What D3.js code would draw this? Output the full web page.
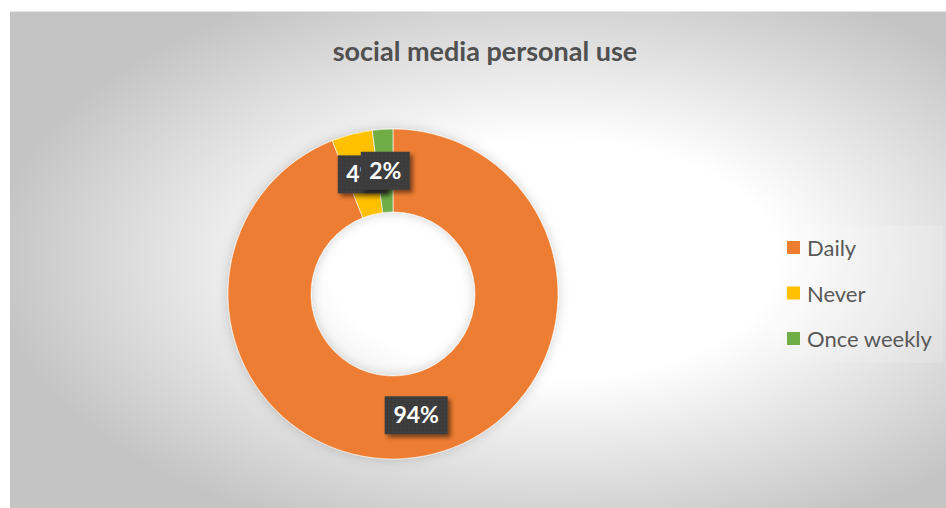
<!DOCTYPE html>
<html><head><meta charset="utf-8">
<script src="https://cdn.jsdelivr.net/npm/d3@7"></script>
<style>body{margin:0;background:#fff;}svg{display:block;}</style>
</head><body>
<script>
const categories = ["Daily", "Never", "Once weekly"];
const values = [94, 4, 2];
const colors = ["#ED7D31", "#FFC000", "#70AD47"];
const title = "social media personal use";

const W = 946, H = 508;
const FONT = "Lato, 'Open Sans', sans-serif";
const svg = d3.select("body").append("svg").attr("width", W).attr("height", H);
const defs = svg.append("defs");
const grad = defs.append("radialGradient").attr("id", "bg")
  .attr("cx", "0.58").attr("cy", "0.5").attr("r", "0.6");
grad.append("stop").attr("offset", "0").attr("stop-color", "#ffffff");
grad.append("stop").attr("offset", "0.4").attr("stop-color", "#ffffff");
grad.append("stop").attr("offset", "1").attr("stop-color", "#c4c4c4");
const sh = defs.append("filter").attr("id", "sh").attr("x", "-30%").attr("y", "-30%").attr("width", "170%").attr("height", "170%");
sh.append("feDropShadow").attr("dx", 3).attr("dy", 3).attr("stdDeviation", 2).attr("flood-color", "#000").attr("flood-opacity", 0.5);
const glow = defs.append("filter").attr("id", "glow").attr("x", "-20%").attr("y", "-20%").attr("width", "140%").attr("height", "140%");
glow.append("feDropShadow").attr("dx", 0).attr("dy", 0).attr("stdDeviation", 6).attr("flood-color", "#000").attr("flood-opacity", 0.18);
const pat = defs.append("pattern").attr("id", "dots").attr("width", 4).attr("height", 4).attr("patternUnits", "userSpaceOnUse");
pat.append("rect").attr("width", 4).attr("height", 4).attr("fill", "#3b3b3b");
pat.append("circle").attr("cx", 1).attr("cy", 1).attr("r", 0.7).attr("fill", "#4a4a4a");

const chart = {x: 10, y: 11, w: W - 10, h: H - 11};
svg.append("rect").attr("x", chart.x).attr("y", chart.y).attr("width", chart.w).attr("height", chart.h)
  .attr("fill", "url(#bg)");
svg.append("line").attr("x1", chart.x).attr("x2", W).attr("y1", chart.y + 0.5).attr("y2", chart.y + 0.5)
  .attr("stroke", "#e6e6e6").attr("stroke-width", 1);

svg.append("text").attr("x", 485).attr("y", 61).attr("text-anchor", "middle")
  .attr("font-family", FONT).attr("font-weight", 700).attr("font-size", 27)
  .attr("fill", "#505050").text(title);

const cx = 393, cy = 294, R = 165, r = 82;
const data = categories.map((c, i) => ({cat: c, value: values[i], color: colors[i]}));
const pie = d3.pie().value(d => d.value).sort(null);
const arcs = pie(data);
const arc = d3.arc().innerRadius(r).outerRadius(R);
const g = svg.append("g").attr("transform", `translate(${cx},${cy})`);
g.append("g").attr("filter", "url(#glow)").selectAll("path.slice").data(arcs).join("path").attr("class", "slice")
  .attr("d", arc).attr("fill", d => d.data.color).attr("stroke", "#ffffff").attr("stroke-width", 0.6);

const total = d3.sum(values);
const labelArc = d3.arc().innerRadius((R + r) / 2).outerRadius((R + r) / 2);
const lab = g.selectAll("g.lab").data(arcs).join("g").attr("class", "lab")
  .attr("transform", d => `translate(${labelArc.centroid(d)})`);
lab.each(function(d) {
  const sel = d3.select(this);
  const txt = Math.round(d.data.value / total * 100) + "%";
  const bw = txt.length === 3 ? 63 : 49, bh = 38;
  sel.append("rect").attr("x", -bw / 2).attr("y", -bh / 2).attr("width", bw).attr("height", bh)
    .attr("fill", "url(#dots)").attr("filter", "url(#sh)");
  sel.append("text").attr("text-anchor", "middle").attr("y", 8)
    .attr("font-family", FONT).attr("font-weight", 700).attr("font-size", 23)
    .attr("fill", "#ffffff").text(txt);
});

// legend
svg.append("rect").attr("x", 773).attr("y", 225).attr("width", 170).attr("height", 138)
  .attr("fill", "#ffffff").attr("opacity", 0.15);
const leg = svg.append("g");
const ly = d3.scalePoint().domain(categories).range([248, 339]);
const li = leg.selectAll("g").data(data).join("g").attr("transform", d => `translate(787,${ly(d.cat)})`);
li.append("rect").attr("x", 0).attr("y", -7).attr("width", 13).attr("height", 13).attr("fill", d => d.color);
li.append("text").attr("x", 20).attr("y", 8).attr("font-family", FONT)
  .attr("font-size", 22).attr("fill", "#595959").text(d => d.cat);
</script>
</body></html>
